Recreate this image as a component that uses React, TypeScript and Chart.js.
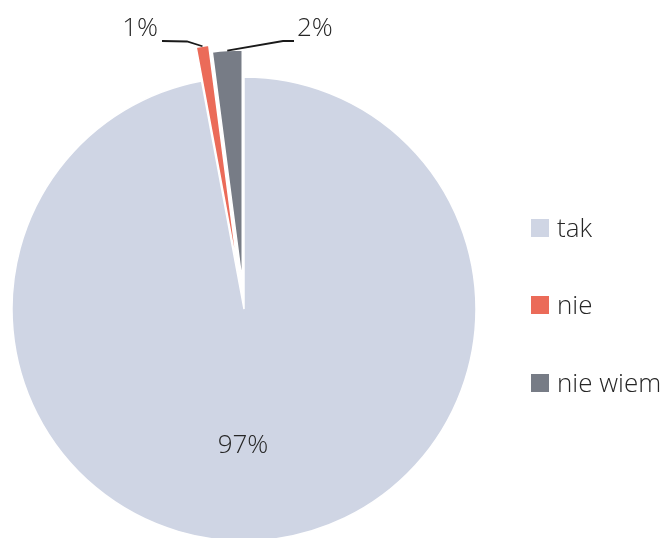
import React, { useEffect, useRef } from "react";
import { Chart, registerables } from "chart.js";

Chart.register(...registerables);

const categories = ["tak", "nie", "nie wiem"];
const shares = [97.07, 0.87, 2.06];
const percentLabels = ["97%", "1%", "2%"];
const colors = ["#CFD5E4", "#EB6B59", "#777C86"];
const explode = [0, 34, 27];

const FONT = "'Open Sans', 'Segoe UI', sans-serif";

export default function App() {
  const ref = useRef<HTMLCanvasElement>(null);

  useEffect(() => {
    if (!ref.current) return;

    // Excel-style explosion: translate the whole slice outward along its mid-angle
    const explodePlugin = {
      id: "explodeSlices",
      beforeDatasetsDraw(chart: any) {
        const meta = chart.getDatasetMeta(0);
        meta.data.forEach((arc: any, i: number) => {
          const d = explode[i] || 0;
          arc._ox = arc.x;
          arc._oy = arc.y;
          if (!d) return;
          const half = (arc.startAngle + arc.endAngle) / 2;
          arc.x = arc._ox + Math.cos(half) * d;
          arc.y = arc._oy + Math.sin(half) * d;
        });
      },
      afterDatasetsDraw(chart: any) {
        const meta = chart.getDatasetMeta(0);
        meta.data.forEach((arc: any) => {
          arc.x = arc._ox;
          arc.y = arc._oy;
        });
      },
    };

    const annotate = {
      id: "annotate",
      afterDraw(chart: any) {
        const ctx = chart.ctx as CanvasRenderingContext2D;
        const meta = chart.getDatasetMeta(0);
        const pts = meta.data.map((arc: any, i: number) => {
          const d = explode[i] || 0;
          const half = (arc.startAngle + arc.endAngle) / 2;
          const cx = arc.x + Math.cos(half) * d;
          const cy = arc.y + Math.sin(half) * d;
          const r = arc.outerRadius;
          return { cx, cy, r, half, ex: cx + Math.cos(half) * r, ey: cy + Math.sin(half) * r };
        });
        ctx.save();
        ctx.font = `300 26px ${FONT}`;
        ctx.fillStyle = "#262626";
        ctx.textBaseline = "alphabetic";

        const a = pts[0];
        ctx.textAlign = "center";
        ctx.fillText(percentLabels[0], a.cx - 1, a.cy + a.r * 0.575 + 11);

        ctx.strokeStyle = "#1a1a1a";
        ctx.lineWidth = 1.8;
        const b = pts[1];
        ctx.beginPath();
        ctx.moveTo(b.ex, b.ey);
        ctx.lineTo(187, 41.5);
        ctx.lineTo(162, 41);
        ctx.stroke();
        ctx.textAlign = "right";
        ctx.fillText(percentLabels[1], 158, 36);

        const c = pts[2];
        ctx.beginPath();
        ctx.moveTo(c.ex, c.ey);
        ctx.lineTo(283, 41);
        ctx.lineTo(294, 41);
        ctx.stroke();
        ctx.textAlign = "left";
        ctx.fillText(percentLabels[2], 297, 36);

        const legendY = [228, 305, 383];
        categories.forEach((name, i) => {
          ctx.fillStyle = colors[i];
          ctx.fillRect(531, legendY[i] - 9, 18, 18);
          ctx.fillStyle = "#262626";
          ctx.textAlign = "left";
          ctx.fillText(name, 557, legendY[i] + 9);
        });
        ctx.restore();
      },
    };

    const chart = new Chart(ref.current, {
      type: "pie",
      data: {
        labels: categories,
        datasets: [
          {
            data: shares,
            backgroundColor: colors,
            borderColor: "#ffffff",
            borderWidth: 1.5,
            hoverOffset: 0,
            clip: false,
          } as any,
        ],
      },
      options: {
        responsive: false,
        animation: false,
        radius: 232,
        layout: { padding: { left: 0, right: 180, top: 80, bottom: 0 } },
        plugins: {
          legend: { display: false },
          tooltip: { enabled: false },
          title: { display: false },
        },
        events: [],
      } as any,
      plugins: [explodePlugin, annotate],
    });

    return () => chart.destroy();
  }, []);

  return (
    <div style={{ position: "absolute", left: 0, top: 0, width: 668, height: 538, background: "#ffffff" }}>
      <canvas ref={ref} width={668} height={538} style={{ display: "block" }} />
    </div>
  );
}
